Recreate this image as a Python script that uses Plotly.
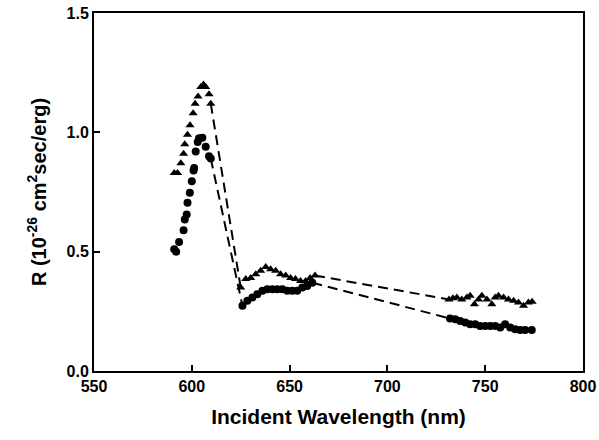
import plotly.graph_objects as go

# Triangles series: three segments
tri_x1 = [591.0, 592.7, 594.4, 595.8, 596.4, 597.8, 599.1, 600.7, 601.7, 603.2, 604.6, 606.0, 607.1, 608.8, 609.7]
tri_y1 = [0.83, 0.83, 0.87, 0.91, 0.95, 0.99, 1.03, 1.08, 1.12, 1.15, 1.19, 1.20, 1.19, 1.16, 1.12]
tri_x2 = [625.0, 627.6, 630.1, 632.7, 635.2, 637.8, 640.3, 642.9, 645.4, 648.0, 650.5, 653.0, 655.6, 658.2, 660.5, 663.0]
tri_y2 = [0.35, 0.385, 0.39, 0.405, 0.42, 0.436, 0.426, 0.42, 0.405, 0.40, 0.39, 0.385, 0.377, 0.377, 0.39, 0.40]
tri_x3 = [731.5, 733.5, 735.5, 738.0, 740.6, 742.3, 744.5, 746.6, 748.3, 750.9, 753.4, 755.1, 756.8, 759.4, 761.9, 764.5, 767.0, 769.6, 772.1, 774.0]
tri_y3 = [0.30, 0.305, 0.308, 0.30, 0.308, 0.315, 0.28, 0.30, 0.315, 0.30, 0.28, 0.308, 0.315, 0.308, 0.30, 0.294, 0.287, 0.273, 0.287, 0.29]

# Circles series: three segments
cir_x1 = [591.0, 592.0, 593.5, 595.8, 596.4, 597.4, 597.8, 599.0, 600.0, 600.9, 601.2, 602.0, 603.0, 603.7, 605.4, 607.1, 608.8, 609.7]
cir_y1 = [0.51, 0.50, 0.54, 0.59, 0.635, 0.656, 0.705, 0.747, 0.795, 0.84, 0.851, 0.92, 0.96, 0.975, 0.977, 0.94, 0.90, 0.89]
cir_x2 = [625.9, 628.4, 631.0, 633.5, 636.1, 638.6, 641.2, 643.7, 646.3, 648.8, 651.4, 653.9, 656.5, 659.0, 661.6]
cir_y2 = [0.273, 0.294, 0.308, 0.322, 0.336, 0.343, 0.343, 0.343, 0.343, 0.336, 0.336, 0.336, 0.35, 0.356, 0.37]
cir_x3 = [732.0, 734.7, 737.2, 739.8, 742.3, 744.9, 747.4, 750.0, 752.6, 755.1, 757.7, 760.2, 762.8, 765.3, 767.9, 770.4, 773.8]
cir_y3 = [0.22, 0.217, 0.21, 0.203, 0.196, 0.196, 0.189, 0.189, 0.189, 0.189, 0.182, 0.196, 0.182, 0.175, 0.172, 0.172, 0.172]

x_ticks = [550, 600, 650, 700, 750, 800]
y_ticks = [0.0, 0.5, 1.0, 1.5]

fig = go.Figure()

dash_style = dict(color="black", width=2, dash="10px,6px")

def connectors(xs_list, ys_list):
    cx, cy = [], []
    for i in range(len(xs_list) - 1):
        cx += [xs_list[i][-1], xs_list[i + 1][0], None]
        cy += [ys_list[i][-1], ys_list[i + 1][0], None]
    return cx, cy

for xs_list, ys_list in [([tri_x1, tri_x2, tri_x3], [tri_y1, tri_y2, tri_y3]),
                         ([cir_x1, cir_x2, cir_x3], [cir_y1, cir_y2, cir_y3])]:
    cx, cy = connectors(xs_list, ys_list)
    fig.add_trace(go.Scatter(x=cx, y=cy, mode="lines", line=dash_style,
                             showlegend=False, hoverinfo="skip"))

fig.add_trace(go.Scatter(x=tri_x1 + tri_x2 + tri_x3, y=tri_y1 + tri_y2 + tri_y3,
                         mode="markers",
                         marker=dict(symbol="triangle-up", size=8, color="black"),
                         showlegend=False))
fig.add_trace(go.Scatter(x=cir_x1 + cir_x2 + cir_x3, y=cir_y1 + cir_y2 + cir_y3,
                         mode="markers",
                         marker=dict(symbol="circle", size=8, color="black"),
                         showlegend=False))

font_family = "Liberation Sans"
fig.update_layout(
    width=599, height=440,
    margin=dict(l=94, r=16, t=13, b=69, autoexpand=False),
    paper_bgcolor="white", plot_bgcolor="white",
    font=dict(family=font_family, color="black"),
    xaxis=dict(range=[550, 800], tickvals=x_ticks, tickformat="d", automargin=False,
               ticks="inside", ticklen=6, tickwidth=1.5, tickcolor="black",
               showline=True, linewidth=2, linecolor="black", mirror=True,
               showgrid=False, zeroline=False,
               tickfont=dict(size=16, family=font_family, weight="bold", color="black"),
               title=dict(text="Incident Wavelength (nm)",
                          font=dict(size=21, family=font_family, weight="bold", color="black"))),
    yaxis=dict(range=[0, 1.5], tickvals=y_ticks, tickformat=".1f", automargin=False,
               ticks="inside", ticklen=6, tickwidth=1.5, tickcolor="black",
               showline=True, linewidth=2, linecolor="black", mirror=True,
               showgrid=False, zeroline=False,
               tickfont=dict(size=16, family=font_family, weight="bold", color="black"),
               title=dict(text="R (10<sup>-26</sup> cm<sup>2</sup>sec/erg)",
                          font=dict(size=20, family=font_family, weight="bold", color="black"))),
)

fig.write_html("out.html", config={"displayModeBar": False},
               post_script="document.body.style.margin='0';document.body.style.overflow='hidden';")
